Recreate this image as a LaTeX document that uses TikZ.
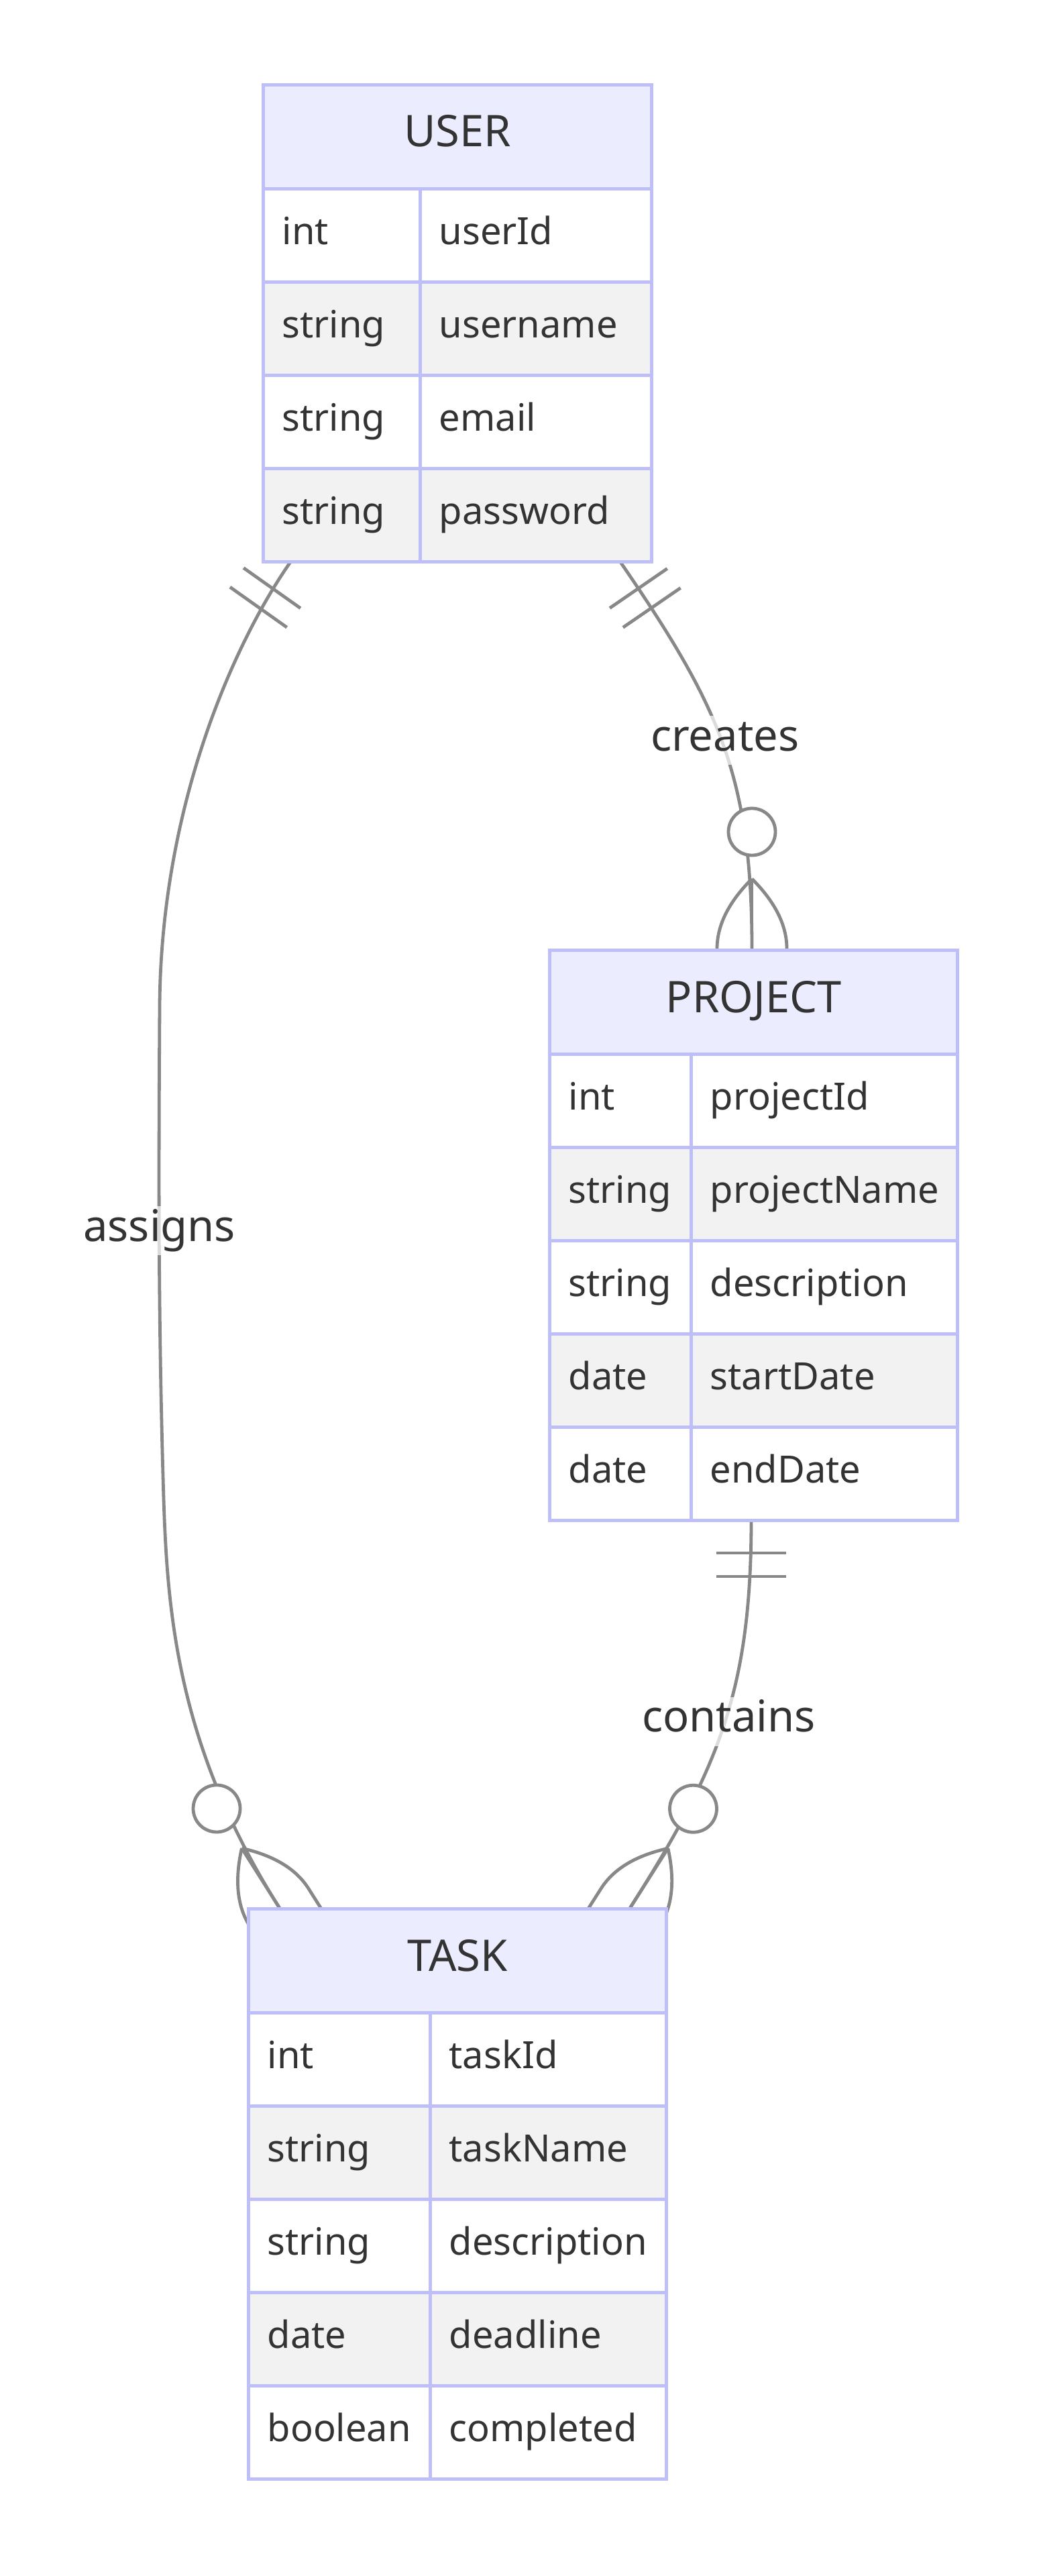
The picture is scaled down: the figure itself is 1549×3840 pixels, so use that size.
\documentclass[tikz,border=0pt]{standalone}
\usepackage{fontspec}
\setmainfont{Noto Sans}
\usetikzlibrary{calc}
\definecolor{erborder}{RGB}{190,190,248}
\definecolor{hdrfill}{RGB}{236,236,255}
\definecolor{evenfill}{RGB}{242,242,242}
\definecolor{edgecol}{RGB}{136,136,136}
\definecolor{txt}{RGB}{51,51,51}
\newcommand{\attrfont}{\fontsize{14}{17}\selectfont}
\newcommand{\headfont}{\fontsize{16.25}{19.5}\selectfont}
\newcommand{\zeroMany}[2]{%
  \begin{scope}[shift={(#1)}, rotate=#2]
    \draw[edge] (0,-104) -- (0,46);
    \draw[edge] (0,-104) .. controls (-34.67,-69.33) and (-52,-34.67) .. (-52,0) -- (-52,46);
    \draw[edge] (0,-104) .. controls (34.67,-69.33) and (52,-34.67) .. (52,0) -- (52,46);
    \draw[edge, fill=white] (0,-174) circle[radius=8.75pt];
  \end{scope}}
\newcommand{\onlyOne}[2]{%
  \begin{scope}[shift={(#1)}, rotate=#2]
    \draw[edge] (-52,51) -- (52,51);
    \draw[edge] (-52,86) -- (52,86);
  \end{scope}}
\tikzset{
  edge/.style={draw=edgecol, line width=1.2pt},
  hdr/.style={anchor=north west, draw=erborder, line width=1.35pt, fill=hdrfill,
    inner sep=0pt, minimum height=38.75pt, text height=0.92em, text depth=0.18em,
    font=\headfont, text=txt},
  cell/.style={anchor=north west, draw=erborder, line width=1.35pt, inner xsep=7pt,
    inner ysep=0pt, minimum height=34.75pt, text height=0.86em, text depth=0.2em,
    align=left, font=\attrfont, text=txt},
  lbl/.style={fill=white, fill opacity=0.7, text opacity=1, inner xsep=2pt,
    inner ysep=3.75pt, text height=0.93em, text depth=0.146em, font=\headfont, text=txt}
}
\begin{document}
\begin{tikzpicture}[x=0.25pt,y=-0.25pt]
\useasboundingbox (0,0) rectangle (1549,3840);
\fill[white] (0,0) rectangle (1549,3840);

% connector end points on the entity borders
\coordinate (uc) at (923,835);
\coordinate (ua) at (435,835);
\coordinate (pc) at (1121,1414);
\coordinate (pb) at (1120,2264);
\coordinate (ta) at (416,2843);
\coordinate (tc) at (940,2843);

% connectors
\draw[edge] (uc) .. controls (1070.2,1049.2) and (1121,1154) .. (pc);
\draw[edge] (ua) .. controls (350,955) and (240,1200) .. (238,1500)
  .. controls (236.5,1750) and (236,1950) .. (243,2200)
  .. controls (248,2380) and (255.5,2589.8) .. (ta);
\draw[edge] (pb) .. controls (1120,2514) and (1074.5,2632.2) .. (tc);

% cardinality markers
\onlyOne{uc}{34.5}
\onlyOne{ua}{-35.3}
\onlyOne{pb}{0}
\zeroMany{pc}{0}
\zeroMany{ta}{32.3}
\zeroMany{tc}{-32.5}

% USER
\node[hdr, minimum width=144.75pt] (user) at (390,124) {USER};
\node[cell, text width=44.5pt, fill=white] (u1t) at (390,279) {int};
\node[cell, text width=72.25pt, fill=white] (u1n) at (624,279) {userId};
\node[cell, text width=44.5pt, fill=evenfill] (u2t) at (390,418) {string};
\node[cell, text width=72.25pt, fill=evenfill] (u2n) at (624,418) {username};
\node[cell, text width=44.5pt, fill=white] (u3t) at (390,557) {string};
\node[cell, text width=72.25pt, fill=white] (u3n) at (624,557) {email};
\node[cell, text width=44.5pt, fill=evenfill] (u4t) at (390,696) {string};
\node[cell, text width=72.25pt, fill=evenfill] (u4n) at (624,696) {password};

% PROJECT
\node[hdr, minimum width=152pt] (project) at (817,1414) {PROJECT};
\node[cell, text width=38.75pt, fill=white] (p1t) at (817,1569) {int};
\node[cell, text width=85.25pt, fill=white] (p1n) at (1028,1569) {projectId};
\node[cell, text width=38.75pt, fill=evenfill] (p2t) at (817,1708) {string};
\node[cell, text width=85.25pt, fill=evenfill] (p2n) at (1028,1708) {projectName};
\node[cell, text width=38.75pt, fill=white] (p3t) at (817,1847) {string};
\node[cell, text width=85.25pt, fill=white] (p3n) at (1028,1847) {description};
\node[cell, text width=38.75pt, fill=evenfill] (p4t) at (817,1986) {date};
\node[cell, text width=85.25pt, fill=evenfill] (p4n) at (1028,1986) {startDate};
\node[cell, text width=38.75pt, fill=white] (p5t) at (817,2125) {date};
\node[cell, text width=85.25pt, fill=white] (p5n) at (1028,2125) {endDate};

% TASK
\node[hdr, minimum width=155.75pt] (task) at (368,2843) {TASK};
\node[cell, text width=53.75pt, fill=white] (t1t) at (368,2998) {int};
\node[cell, text width=74pt, fill=white] (t1n) at (639,2998) {taskId};
\node[cell, text width=53.75pt, fill=evenfill] (t2t) at (368,3137) {string};
\node[cell, text width=74pt, fill=evenfill] (t2n) at (639,3137) {taskName};
\node[cell, text width=53.75pt, fill=white] (t3t) at (368,3276) {string};
\node[cell, text width=74pt, fill=white] (t3n) at (639,3276) {description};
\node[cell, text width=53.75pt, fill=evenfill] (t4t) at (368,3415) {date};
\node[cell, text width=74pt, fill=evenfill] (t4n) at (639,3415) {deadline};
\node[cell, text width=53.75pt, fill=white] (t5t) at (368,3554) {boolean};
\node[cell, text width=74pt, fill=white] (t5n) at (639,3554) {completed};

% relationship labels
\node[lbl] (lcreates) at (1080.7,1103.7) {creates};
\node[lbl] (lassigns) at (237.7,1834.5) {assigns};
\node[lbl] (lcontains) at (1086.5,2566) {contains};
\end{tikzpicture}
\end{document}
